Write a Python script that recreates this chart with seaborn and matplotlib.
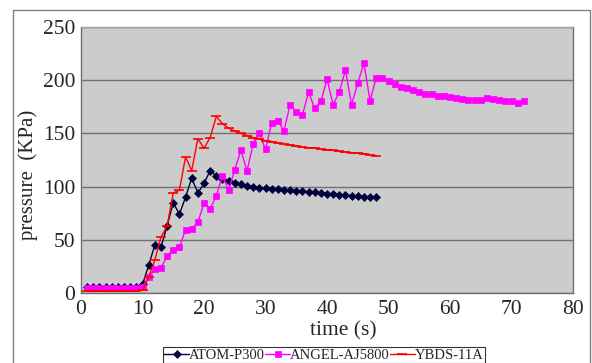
import pandas as pd
import matplotlib.pyplot as plt
import seaborn as sns
from matplotlib.lines import Line2D

# Data
atom_time = list(range(1, 49))
atom_pressure = [6, 6, 6, 6, 6, 6, 6, 6, 6, 8,
                 26, 45, 43, 63, 85, 74, 90, 108, 94, 103,
                 115, 110, 107, 105, 103, 102, 101, 100, 99, 98.5,
                 98, 97.5, 97, 96.5, 96, 95.5, 95, 94.5, 94, 93.5,
                 93, 92.5, 92, 91.5, 91, 90.5, 90, 90]

angel_time = list(range(1, 73))
angel_pressure = [5, 5, 5, 5, 5, 5, 5, 5, 5, 6,
                  15, 22.5, 23.5, 34.5, 40.5, 43, 59.5, 60.5, 66.5, 84.5,
                  79, 91.5, 110, 96.5, 116, 134, 115, 140, 150, 135,
                  160, 162, 152.5, 177, 170, 167, 189, 173.5, 180, 201,
                  177, 189, 209.5, 177, 197, 216, 180.5, 202.5, 202.5, 199.5,
                  196.5, 194, 192.5, 191, 189, 187.5, 187, 185.5, 185, 184,
                  183.5, 182.5, 181.5, 181.5, 181.5, 183.5, 182, 181.5, 180.5, 180.5,
                  179, 180.5]

ybds_time = list(range(1, 49))
ybds_pressure = [2, 2, 2, 2, 2, 2, 2, 2, 2, 3,
                 15, 31, 52.5, 63, 94, 96.5, 128, 115, 145, 136,
                 146, 166, 159, 155, 152, 150, 148, 146, 145, 143,
                 142, 141, 140, 139, 138, 137, 136.5, 136, 135, 134.5,
                 134, 133, 132.5, 132, 131.5, 131, 130, 129]

series_names = ['ATOM-P300', 'ANGEL-AJ5800', 'YBDS-11A']
series_colors = ['#00003C', '#FF00FF', '#FF0000']
series_markers = ['D', 's', '_']
series_sizes = [3.8, 5, 7]

x_ticks = [0, 10, 20, 30, 40, 50, 60, 70, 80]
y_ticks = [0, 50, 100, 150, 200, 250]

df = pd.concat([
    pd.DataFrame({'time': atom_time, 'pressure': atom_pressure, 'device': series_names[0]}),
    pd.DataFrame({'time': angel_time, 'pressure': angel_pressure, 'device': series_names[1]}),
    pd.DataFrame({'time': ybds_time, 'pressure': ybds_pressure, 'device': series_names[2]}),
])

sns.set_style('white')
plt.rcParams['font.family'] = ['Liberation Serif', 'DejaVu Serif']

fig = plt.figure(figsize=(5.92, 3.63), dpi=100)
ax = fig.add_axes([81 / 592, 1 - 293 / 363, 492 / 592, 266 / 363])
ax.set_facecolor('#CCCCCC')

for name, color, marker, size in zip(series_names, series_colors, series_markers, series_sizes):
    sub = df[df['device'] == name]
    sns.lineplot(data=sub, x='time', y='pressure', ax=ax, color=color, marker=marker,
                 markersize=size, markeredgecolor=color, markeredgewidth=1.2 if marker == '_' else 0.5,
                 linewidth=1.0, label=name, legend=False)

ax.set_xlim(0, 80)
ax.set_ylim(0, 250)
ax.set_xticks(x_ticks)
ax.set_yticks(y_ticks)
ax.tick_params(axis='x', length=3, width=0.8, color='#808080', direction='out', labelsize=15.5, pad=2)
ax.tick_params(axis='y', length=0, labelsize=15.5, pad=4)
ax.grid(axis='y', color='#707070', linewidth=1.0)
ax.grid(axis='x', visible=False)
ax.set_axisbelow(True)

for side in ['left', 'bottom', 'right']:
    ax.spines[side].set_visible(True)
    ax.spines[side].set_color('#707070')
    ax.spines[side].set_linewidth(1.0)
ax.spines['top'].set_visible(True)
ax.spines['top'].set_color('#A0A0A0')
ax.spines['top'].set_linewidth(1.0)

ax.set_xlabel('time (s)', fontsize=15.5)
ax.set_ylabel('pressure  (KPa)', fontsize=15)
ax.xaxis.set_label_coords(0.533, -0.108)
ax.yaxis.set_label_coords(-0.087, 0.444)

# outer chart frame
fig.add_artist(Line2D([13 / 592, 13 / 592], [0, 1 - 10 / 363], color='#808080', lw=1.0))
fig.add_artist(Line2D([13 / 592, 590 / 592], [1 - 10 / 363, 1 - 10 / 363], color='#808080', lw=1.0))
fig.add_artist(Line2D([590 / 592, 590 / 592], [0, 1 - 10 / 363], color='#808080', lw=1.0))

handles, labels = ax.get_legend_handles_labels()
leg = fig.legend(handles, labels, loc='upper left', bbox_to_anchor=(163 / 592, 1 - 347 / 363),
                 ncol=3, fontsize=10.5, frameon=True, fancybox=False, edgecolor='black',
                 handlelength=1.7, handletextpad=0.0, columnspacing=0.0, borderpad=0.1,
                 borderaxespad=0)
leg.get_frame().set_linewidth(0.8)

fig.savefig('out.png', dpi=100)
